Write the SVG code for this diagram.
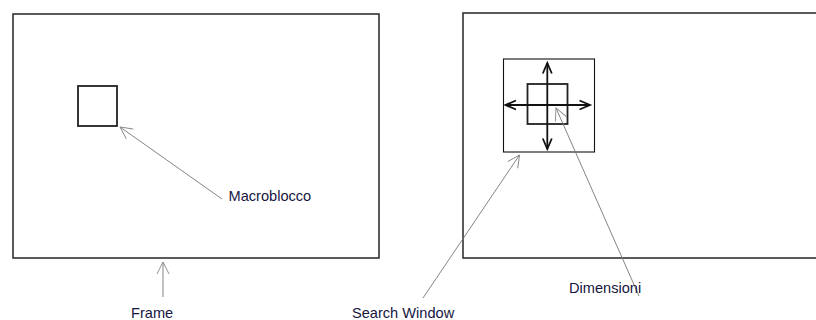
<svg xmlns="http://www.w3.org/2000/svg" width="816" height="320" viewBox="0 0 816 320">
<style>
.frame{fill:none;stroke:#333;stroke-width:1.6}
.mb{fill:none;stroke:#222;stroke-width:1.8}
.sw{fill:none;stroke:#111;stroke-width:1.1}
.ptr{fill:none;stroke:#777;stroke-width:0.9;marker-end:url(#open)}
.dir{fill:none;stroke:#111;stroke-width:1.8;marker-end:url(#bold)}
.lbl{font-family:"Liberation Sans",Arial,sans-serif;font-size:14.6px;fill:#16163f}
</style>
<defs>
<marker id="open" markerUnits="userSpaceOnUse" markerWidth="16" markerHeight="16" viewBox="-14 -8 16 16" refX="0" refY="0" orient="auto" overflow="visible">
<path d="M-12,-6 L0,0 L-12,6" fill="none" stroke="#888" stroke-width="0.9"/>
</marker>
<marker id="bold" markerUnits="userSpaceOnUse" markerWidth="16" markerHeight="16" viewBox="-14 -8 16 16" refX="0" refY="0" orient="auto" overflow="visible">
<path d="M-10.5,-4.5 L0,0 L-10.5,4.5" fill="none" stroke="#111" stroke-width="1.8"/>
</marker>
</defs>
<g id="frame-left">
<rect class="frame" x="13" y="14" width="366" height="244"/>
</g>
<g id="macroblocco">
<rect class="mb" x="78" y="86" width="39" height="40"/>
</g>
<g id="frame-right">
<rect class="frame" x="463" y="13" width="370" height="245"/>
</g>
<g id="search-window">
<rect class="sw" x="503.5" y="59" width="91" height="93"/>
</g>
<g id="macroblocco-search">
<rect class="mb" x="527.5" y="84" width="40" height="40"/>
</g>
<g id="connectors">
<line class="dir" x1="547.3" y1="105" x2="547.3" y2="63"/>
<line class="dir" x1="547.3" y1="105" x2="547.3" y2="149"/>
<line class="dir" x1="547.3" y1="105" x2="505.5" y2="105"/>
<line class="dir" x1="547.3" y1="105" x2="590" y2="105"/>
<line class="ptr" x1="222" y1="199" x2="120" y2="127"/>
<line class="ptr" x1="163" y1="297" x2="163" y2="262"/>
<line class="ptr" x1="423" y1="298" x2="519.5" y2="155"/>
<line class="ptr" x1="639" y1="296" x2="556" y2="108"/>
</g>
<g id="labels">
<text class="lbl" x="228.5" y="200.5">Macroblocco</text>
<text class="lbl" x="131" y="318">Frame</text>
<text class="lbl" x="352" y="318">Search Window</text>
<text class="lbl" x="569" y="293">Dimensioni</text>
</g>
</svg>
